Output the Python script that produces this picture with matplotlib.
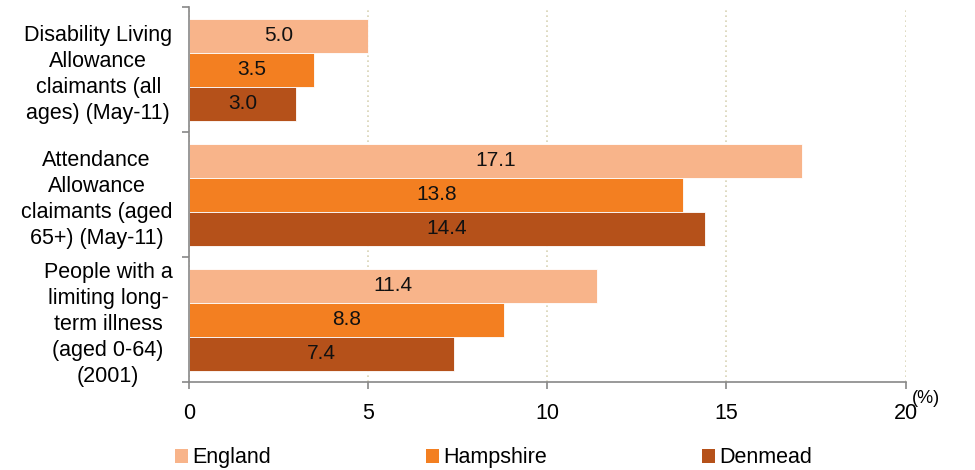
import matplotlib
matplotlib.use("Agg")
import matplotlib.pyplot as plt
import numpy as np
from matplotlib.patches import Patch

plt.rcParams["font.family"] = ["Liberation Sans", "DejaVu Sans"]

categories = [
    "Disability Living\nAllowance\nclaimants (all\nages) (May-11)",
    "Attendance\nAllowance\nclaimants (aged\n65+) (May-11)",
    "People with a\nlimiting long-\nterm illness\n(aged 0-64)\n(2001)",
]
series_names = ["England", "Hampshire", "Denmead"]
england = [5.0, 17.1, 11.4]
hampshire = [3.5, 13.8, 8.8]
denmead = [3.0, 14.4, 7.4]
colors = ["#F8B48A", "#F37F21", "#B5511A"]
x_ticks = [0, 5, 10, 15, 20]

fig = plt.figure(figsize=(9.75, 4.7), dpi=100)
ax = fig.add_axes([0.1938, 0.187, 0.735, 0.798])

y = np.arange(len(categories))
h = 0.272
for i, (vals, col) in enumerate(zip([england, hampshire, denmead], colors)):
    pos = y + (i - 1) * h
    bars = ax.barh(pos, vals, height=h, color=col, edgecolor="white", linewidth=0.6, zorder=2)
    for b, v in zip(bars, vals):
        ax.text(v / 2, b.get_y() + b.get_height() / 2, f"{v:.1f}", ha="center", va="center",
                fontsize=15, color="#111111", zorder=3)

ax.set_ylim(2.5, -0.5)
ax.set_xlim(0, 20)
ax.set_xticks(x_ticks)
ax.set_xticklabels([str(t) for t in x_ticks], fontsize=15.5)
ax.set_yticks([-0.5, 0.5, 1.5, 2.5])
ax.set_yticklabels([])
ax.set_yticks(y, minor=True)
ax.set_yticklabels(categories, minor=True, fontsize=15.5, linespacing=1.3, multialignment="center")
ax.tick_params(axis="y", which="minor", length=0, pad=12)
ax.tick_params(axis="y", which="major", length=5, color="#888888", width=1.2)
ax.tick_params(axis="x", length=5, color="#888888", width=1.2, pad=10)
ax.grid(axis="x", color="#D8D3B5", linestyle=(0, (1, 2)), linewidth=1.2, zorder=0)
for s in ["top", "right"]:
    ax.spines[s].set_visible(False)
for s in ["left", "bottom"]:
    ax.spines[s].set_color("#888888")
    ax.spines[s].set_linewidth(1.2)

fig.text(0.935, 0.152, "(%)", fontsize=13, ha="left", va="center")

handles = [Patch(facecolor=c, edgecolor="none") for c in colors]
fig.legend(handles, series_names, loc="lower left", bbox_to_anchor=(0.160, -0.038), ncol=3,
           frameon=False, fontsize=15.5, handlelength=0.6, handleheight=0.6, handletextpad=0.2,
           columnspacing=7.2)

fig.savefig("out.png", dpi=100)
